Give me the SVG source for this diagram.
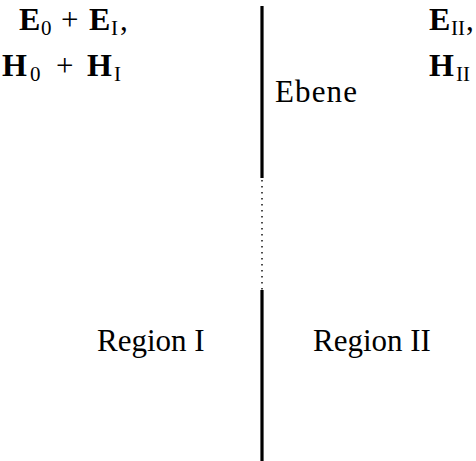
<svg xmlns="http://www.w3.org/2000/svg" width="476" height="461" viewBox="0 0 476 461">
<style>
text{font-family:"Liberation Serif","DejaVu Serif",serif;fill:#000;font-size:31px}
.b{font-weight:bold;font-size:32px}
.s{font-size:21px}
.solid{stroke:#000;stroke-width:3.2;fill:none}
.dot{stroke:#000;stroke-width:1.4;stroke-dasharray:1.4 4.6;fill:none}
</style>
<rect width="476" height="461" fill="#fff"/>
<g id="connectors">
<line class="solid" x1="262" y1="6" x2="262" y2="178"/>
<line class="dot" x1="262" y1="180" x2="262" y2="290"/>
<line class="solid" x1="262" y1="290" x2="262" y2="461"/>
</g>
<g id="region1-fields">
<text y="30"><tspan class="b" x="19">E</tspan><tspan class="s" x="41" dy="5">0</tspan><tspan x="61" dy="-5">+</tspan><tspan class="b" x="89">E</tspan><tspan class="s" x="111" dy="5">I</tspan><tspan x="120" dy="-5">,</tspan></text>
<text y="76"><tspan class="b" x="2">H</tspan><tspan class="s" x="30" dy="5">0</tspan><tspan x="56" dy="-5">+</tspan><tspan class="b" x="87">H</tspan><tspan class="s" x="114" dy="5">I</tspan></text>
</g>
<g id="region2-fields">
<text y="30"><tspan class="b" x="429">E</tspan><tspan class="s" x="451" dy="5">II</tspan><tspan x="466" dy="-5">,</tspan></text>
<text y="76"><tspan class="b" x="429">H</tspan><tspan class="s" x="456" dy="5">II</tspan></text>
</g>
<g id="ebene"><text x="275" y="102" textLength="82" lengthAdjust="spacing">Ebene</text></g>
<g id="region1"><text x="97" y="351">Region I</text></g>
<g id="region2"><text x="313" y="351">Region II</text></g>
</svg>
